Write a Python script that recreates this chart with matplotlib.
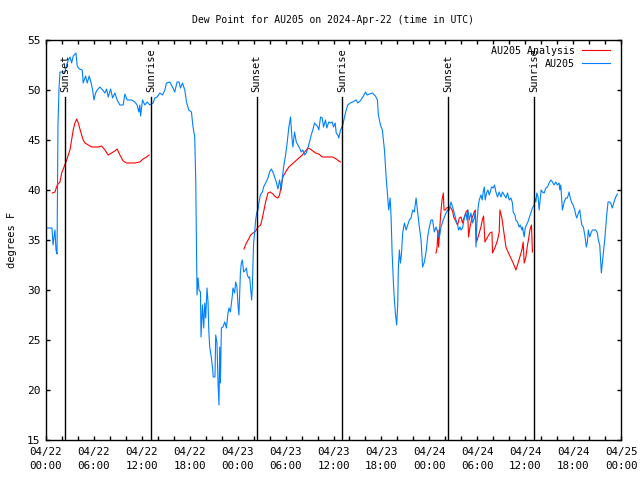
import numpy as np
import matplotlib
matplotlib.use("Agg")
import matplotlib.pyplot as plt

# hours since 2024-04-22 00:00 UTC
obs_hours = [
    0.12, 0.75, 0.88, 1.12, 1.25, 1.38, 1.5, 1.62, 1.75, 2.38, 2.59, 2.79, 3.0, 3.21, 3.41, 3.75,
    3.91, 4.16, 4.54, 4.66, 4.96, 5.16, 5.41, 5.62, 5.84, 6.0, 6.21, 6.41, 6.75, 7.09, 7.38, 7.59,
    7.79, 8.09, 8.34, 8.62, 8.91, 9.25, 9.66, 9.88, 10.16, 10.71, 11.12, 11.41, 11.62, 11.75, 11.84,
    12.09, 12.38, 12.66, 13.0, 13.41, 13.62, 13.91, 14.25, 14.59, 14.88, 15.09, 15.5, 15.84, 16.12,
    16.41, 16.66, 16.84, 17.09, 17.38, 17.59, 17.88, 18.21, 18.41, 18.62, 18.75, 18.84, 18.86, 18.91,
    19.04, 19.16, 19.34, 19.41, 19.5, 19.59, 19.75, 19.88, 20.0, 20.16, 20.29, 20.38, 20.5, 20.71,
    20.88, 20.94, 21.16, 21.25, 21.41, 21.54, 21.66, 21.75, 21.84, 21.96, 22.16, 22.38, 22.59, 22.66,
    22.79, 22.91, 23.09, 23.34, 23.41, 23.62, 23.75, 23.91, 24.04, 24.16, 24.34, 24.46, 24.59, 24.75,
    24.96, 25.09, 25.21, 25.38, 25.5, 25.62, 25.75, 25.84, 25.91, 26.0, 26.12, 26.25, 26.41, 26.54,
    26.66, 26.84, 27.09, 27.25, 27.5, 27.79, 28.0, 28.21, 28.41, 28.62, 28.84, 29.04, 29.25, 29.46,
    29.59, 29.75, 30.0, 30.21, 30.41, 30.62, 30.79, 30.91, 31.12, 31.34, 31.54, 31.75, 31.96, 32.16,
    32.38, 32.59, 32.79, 33.0, 33.21, 33.41, 33.62, 33.84, 34.04, 34.16, 34.38, 34.59, 34.75, 35.0,
    35.16, 35.41, 35.62, 35.84, 36.0, 36.21, 36.34, 36.54, 36.66, 36.88, 37.16, 37.38, 37.59, 37.79,
    38.09, 38.41, 38.84, 39.04, 39.34, 39.59, 39.75, 40.0, 40.21, 40.5, 40.88, 41.25, 41.5, 41.62,
    41.88, 42.12, 42.38, 42.59, 42.79, 42.91, 43.09, 43.21, 43.34, 43.5, 43.62, 43.75, 43.91, 44.04,
    44.12, 44.25, 44.38, 44.5, 44.66, 44.88, 45.09, 45.29, 45.5, 45.71, 45.91, 46.12, 46.34, 46.54,
    46.75, 46.96, 47.09, 47.16, 47.38, 47.59, 47.79, 48.0, 48.21, 48.41, 48.62, 48.84, 49.04, 49.25,
    49.46, 49.66, 49.88, 50.09, 50.29, 50.5, 50.71, 50.91, 51.12, 51.34, 51.54, 51.66, 51.84, 51.96,
    52.16, 52.38, 52.59, 52.71, 52.84, 53.0, 53.21, 53.41, 53.62, 53.75, 53.84, 53.96, 54.12, 54.25,
    54.46, 54.62, 54.75, 54.88, 55.0, 55.16, 55.34, 55.5, 55.62, 55.79, 56.0, 56.16, 56.34, 56.54,
    56.75, 56.96, 57.16, 57.38, 57.59, 57.79, 58.0, 58.21, 58.41, 58.5, 58.71, 58.84, 59.04, 59.25,
    59.38, 59.59, 59.66, 59.88, 60.0, 60.16, 60.34, 60.5, 60.71, 60.91, 61.12, 61.21, 61.34, 61.46,
    61.62, 61.75, 61.88, 62.0, 62.16, 62.38, 62.59, 62.79, 63.0, 63.21, 63.41, 63.62, 63.84, 64.04,
    64.25, 64.34, 64.46, 64.59, 64.66, 64.75, 64.88, 65.09, 65.29, 65.5, 65.62, 65.79, 66.0, 66.21,
    66.34, 66.46, 66.66, 66.84, 66.96, 67.09, 67.29, 67.5, 67.66, 67.79, 67.91, 68.09, 68.25, 68.41,
    68.84, 69.04, 69.16, 69.34, 69.46, 69.54, 69.66, 69.79, 69.96, 70.09, 70.21, 70.38, 70.59, 70.71,
    70.91, 71.12, 71.34, 71.54,
]
obs_dewpt = [
    36.2, 36.2, 34.5, 36.0, 34.0, 33.6, 46.5, 50.0, 51.8, 51.8, 52.5, 53.0, 53.3, 52.7, 53.4, 53.7,
    52.4, 52.1, 52.0, 50.7, 51.4, 50.7, 51.4, 50.8, 50.0, 49.0, 49.7, 50.0, 50.3, 50.0, 49.7, 50.1,
    49.3, 50.1, 49.2, 49.7, 49.0, 48.5, 48.5, 49.6, 49.0, 49.0, 48.8, 48.5, 47.8, 48.5, 47.4,
    49.0, 48.5, 48.8, 48.5, 48.7, 49.2, 49.3, 49.7, 49.5, 50.0, 50.7, 50.8, 50.3, 49.8,
    50.8, 50.8, 50.2, 50.7, 50.0, 48.8, 48.0, 47.8, 46.3, 45.3, 41.0, 35.0, 33.2, 29.5,
    31.2, 30.0, 29.8, 25.3, 26.8, 28.5, 26.2, 28.7, 27.2, 30.2, 28.8, 26.0, 24.3, 23.2,
    22.0, 21.3, 21.3, 25.5, 24.7, 20.7, 18.5, 24.3, 20.7, 26.2, 26.3, 26.8, 26.2, 26.7,
    27.7, 28.2, 27.8, 29.5, 30.2, 29.7, 30.8, 30.3, 28.5, 27.5, 31.7, 32.7, 33.0, 31.8,
    32.0, 32.2, 31.5, 31.2, 31.3, 30.2, 29.0, 30.3, 32.5, 34.7, 35.7, 37.0, 37.8, 38.0,
    38.7, 39.5, 39.8, 40.3, 40.7, 41.2, 41.8, 42.1, 41.8, 41.3, 40.8, 40.1, 41.0, 40.0,
    41.2, 42.3, 43.5, 44.8, 46.3, 47.3, 45.3, 44.3, 45.8, 44.8, 44.5, 44.2, 43.8, 44.0,
    43.5, 43.7, 44.2, 44.8, 45.5, 46.0, 46.7, 46.5, 46.3, 46.0, 47.3, 47.2, 46.3, 47.0,
    46.2, 46.8, 46.7, 46.8, 46.3, 46.7, 45.7, 45.5, 45.2, 46.0, 46.5, 47.3, 48.0, 48.5,
    48.7, 48.8, 49.0, 48.7, 48.9, 49.2, 49.4, 49.8, 49.5, 49.6, 49.7, 49.4, 49.0, 47.5,
    46.5, 46.0, 44.0, 41.3, 39.2, 38.0, 39.2, 37.3, 33.7, 30.8, 29.0, 27.7, 26.5, 28.5,
    32.2, 34.0, 32.7, 33.5, 35.7, 36.7, 36.0, 36.5, 37.0, 37.2, 38.0, 37.8, 39.2, 37.8,
    36.3, 35.0, 33.3, 32.3, 32.8, 33.8, 35.3, 36.3, 37.0, 37.0, 35.8, 36.3, 35.8, 35.2,
    36.3, 36.8, 37.3, 37.7, 38.0, 38.0, 38.8, 38.3, 37.7, 37.0, 36.5, 36.0, 36.3, 36.0,
    36.2, 37.2, 37.7, 37.0, 38.0, 37.0, 37.7, 36.7, 37.2, 37.8, 34.3, 36.7, 38.3, 39.0,
    39.5, 39.0, 39.8, 40.3, 39.0, 39.7, 40.0, 39.5, 39.8, 40.3, 40.2, 40.5, 39.8, 39.3,
    39.8, 39.3, 39.8, 39.5, 39.2, 39.7, 39.0, 39.2, 38.7, 37.8, 37.5, 37.0, 36.8, 36.3,
    36.5, 36.0, 36.3, 35.3, 36.2, 36.5, 36.8, 37.2, 37.7, 38.2, 38.5, 39.2, 38.8, 39.7,
    39.3, 38.0, 39.0, 40.0, 39.8, 39.7, 40.2, 40.3, 40.7, 41.0, 40.8, 40.5, 40.8, 40.5,
    40.7, 40.0, 40.5, 38.8, 38.0, 38.3, 38.8, 39.2, 39.2, 39.8, 39.3, 38.8, 38.5, 38.0,
    37.5, 37.2, 37.7, 38.0, 37.2, 36.5, 36.3, 35.3, 34.3, 34.8, 36.0, 35.3, 35.7, 36.0,
    36.0, 35.7, 35.0, 34.5, 32.7, 31.7, 32.7, 33.7, 35.0, 36.3, 37.5, 38.8, 38.8, 38.7,
    38.2, 38.8, 39.3, 39.6,
]

# analysis, three separate runs
ana_hours_1 = [0.79, 1.12, 1.41, 1.75, 1.96, 2.25, 2.5, 2.79, 3.0, 3.21, 3.41, 3.62, 3.84, 4.04,
               4.25, 4.46, 4.66, 4.88, 5.29, 5.71, 6.12, 6.54, 6.96, 7.38, 7.79, 8.21, 8.62, 8.91,
               9.25, 9.66, 10.09, 10.59, 11.12, 11.75, 12.16, 12.59, 12.91]
ana_dewpt_1 = [39.7, 39.8, 40.5, 40.8, 41.7, 42.3, 42.8, 43.5, 44.0, 45.0, 46.0, 46.7, 47.1, 46.7,
               46.1, 45.5, 45.0, 44.7, 44.5, 44.3, 44.3, 44.3, 44.4, 44.0, 43.5, 43.7, 43.9, 44.1,
               43.5, 42.9, 42.7, 42.7, 42.7, 42.8, 43.1, 43.3, 43.5]
ana_hours_2 = [24.79, 25.09, 25.38, 25.62, 25.91, 26.25, 26.54, 26.88, 27.09, 27.29, 27.5, 27.79,
               28.09, 28.41, 28.75, 29.04, 29.25, 29.46, 29.66, 30.0, 30.41, 30.84, 31.25, 31.66,
               32.09, 32.5, 32.79, 33.09, 33.41, 33.75, 34.16, 34.59, 35.0, 35.5, 35.91, 36.34,
               36.66, 36.88]
ana_dewpt_2 = [34.1, 34.7, 35.1, 35.5, 35.7, 35.9, 36.3, 36.5, 37.2, 38.0, 38.8, 39.7,
               39.8, 39.6, 39.3, 39.2, 39.5, 40.5, 41.3, 41.8, 42.3, 42.6, 42.9, 43.2,
               43.5, 43.9, 44.2, 44.1, 43.9, 43.7, 43.6, 43.3, 43.3, 43.3, 43.3, 43.1,
               42.9, 42.8]
ana_hours_3 = [48.84, 48.96, 49.09, 49.16, 49.29, 49.41, 49.59, 49.75, 49.84, 50.0, 50.16, 50.5,
               50.71, 50.91, 51.04, 51.25, 51.41, 51.54, 51.75, 51.96, 52.16, 52.38, 52.59, 52.79,
               52.91, 53.09, 53.34, 53.5, 53.62, 53.75, 53.91, 54.25, 54.46, 54.66, 54.79, 54.96,
               55.29, 55.59, 55.84, 55.91, 56.25, 56.54, 56.75, 56.84, 57.09, 57.25, 57.38, 57.59,
               57.91, 58.21, 58.5, 58.84, 59.04, 59.34, 59.59, 59.75, 59.88, 60.09, 60.29, 60.41,
               60.59, 60.79, 60.91]
ana_dewpt_3 = [33.7, 34.2, 36.0, 34.3, 36.0, 37.5, 39.0, 39.7, 38.0, 38.0, 38.2, 38.3,
               38.2, 37.9, 37.3, 37.0, 36.7, 36.5, 37.2, 37.3, 36.7, 37.3, 37.8, 38.0,
               35.3, 36.3, 37.2, 37.5, 37.8, 38.0, 34.8, 35.7, 36.3, 37.1, 37.4, 34.8,
               35.3, 35.7, 35.8, 33.7, 34.3, 35.0, 35.8, 38.0, 37.2, 36.3, 35.5, 34.3,
               33.7, 33.2, 32.7, 32.0, 32.5, 33.3, 34.0, 34.8, 32.7, 33.3, 34.5, 35.0,
               36.0, 36.5, 33.8]

sun_hours = [2.38, 13.12, 26.38, 37.12, 50.38, 61.12]
sun_labels = ["Sunset", "Sunrise", "Sunset", "Sunrise", "Sunset", "Sunrise"]

tick_hours = list(range(0, 73, 6))
tick_labels = ["04/%02d\n%02d:00" % (22 + h // 24, h % 24) for h in tick_hours]

plt.rcParams["font.family"] = "DejaVu Sans Mono"
plt.rcParams["font.size"] = 8

fig = plt.figure(figsize=(6.4, 4.8), dpi=100)
ax = fig.add_axes([46 / 640, 40 / 480, 575 / 640, 400 / 480])

ana_h = ana_hours_1 + [np.nan] + ana_hours_2 + [np.nan] + ana_hours_3
ana_v = ana_dewpt_1 + [np.nan] + ana_dewpt_2 + [np.nan] + ana_dewpt_3
ax.plot(ana_h, ana_v, color="#ff0000", lw=0.8, label="AU205 Analysis")
ax.plot(obs_hours, obs_dewpt, color="#0080ff", lw=0.8, label="AU205")

for h, lab in zip(sun_hours, sun_labels):
    ax.plot([h, h], [15, 49.3], color="black", lw=1.0)
    ax.text(h, 49.8, lab, rotation=90, ha="center", va="bottom", fontsize=7.5)

ax.set_xlim(0, 72)
ax.set_ylim(15, 55)
ax.set_xticks(tick_hours)
ax.set_xticklabels(tick_labels, linespacing=1.55, fontsize=7.8)
ax.set_xticks(range(0, 73, 2), minor=True)
ax.set_yticks(range(15, 56, 5))
ax.tick_params(which="both", direction="in", top=True, right=True, length=3, width=1)
ax.tick_params(axis="x", pad=5)
ax.tick_params(axis="y", pad=4, labelsize=8)
for s in ax.spines.values():
    s.set_linewidth(1.0)

ax.set_ylabel("degrees F", labelpad=7, fontsize=7.5)
ax.set_title("Dew Point for AU205 on 2024-Apr-22 (time in UTC)", pad=12, fontsize=7)

ax.legend(loc="upper right", bbox_to_anchor=(1 - 11 / 575, 1 - 6 / 400), frameon=False,
          markerfirst=False, alignment="right", fontsize=7.2,
          handlelength=2.8, handletextpad=0.7, labelspacing=0.3,
          borderaxespad=0, borderpad=0)

fig.savefig("out.png", dpi=100)
